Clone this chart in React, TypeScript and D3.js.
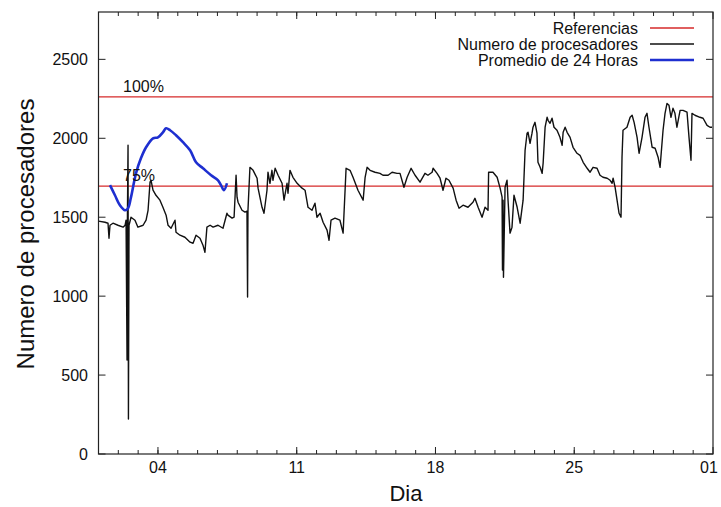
import React from "react";
import * as d3 from "d3";

// Day of month (fractional) and number of processors
const procDays = [
  1.0, 1.33, 1.48, 1.53, 1.58, 1.73, 1.98, 2.24, 2.34, 2.39, 2.44, 2.46, 2.49, 2.51, 2.54, 2.64, 2.84, 2.99,
  3.25, 3.4, 3.5, 3.6, 3.65, 3.75, 3.9, 4.1, 4.25, 4.41, 4.51, 4.66, 4.86, 4.91, 5.11, 5.36, 5.62, 5.77,
  5.92, 6.12, 6.27, 6.37, 6.47, 6.63, 6.78, 7.03, 7.28, 7.48, 7.53, 7.74, 7.84, 7.94, 7.99, 8.04, 8.24,
  8.39, 8.49, 8.52, 8.54, 8.64, 8.8, 9.0, 9.05, 9.25, 9.35, 9.5, 9.55, 9.65, 9.75, 9.8, 9.91, 10.06,
  10.26, 10.36, 10.51, 10.56, 10.66, 10.81, 11.02, 11.27, 11.42, 11.57, 11.77, 11.92, 12.02, 12.18, 12.33,
  12.53, 12.63, 12.73, 12.93, 13.18, 13.34, 13.49, 13.69, 13.84, 14.09, 14.35, 14.45, 14.55, 14.7, 14.95,
  15.2, 15.35, 15.61, 15.81, 16.06, 16.21, 16.41, 16.57, 16.77, 16.97, 17.22, 17.47, 17.62, 17.83, 17.88,
  18.08, 18.23, 18.38, 18.53, 18.68, 18.89, 19.04, 19.19, 19.39, 19.64, 19.89, 19.99, 20.15, 20.35, 20.5,
  20.65, 20.68, 20.9, 21.11, 21.26, 21.36, 21.38, 21.41, 21.43, 21.51, 21.61, 21.66, 21.76, 21.86, 21.96,
  22.12, 22.27, 22.42, 22.52, 22.62, 22.67, 22.77, 22.87, 22.92, 23.02, 23.12, 23.17, 23.28, 23.38, 23.43,
  23.53, 23.63, 23.68, 23.78, 23.88, 23.98, 24.13, 24.28, 24.39, 24.44, 24.54, 24.64, 24.79, 24.94, 25.14,
  25.29, 25.45, 25.65, 25.8, 25.95, 26.15, 26.3, 26.45, 26.66, 26.81, 26.91, 26.96, 27.06, 27.16, 27.26,
  27.36, 27.41, 27.46, 27.66, 27.82, 27.92, 28.02, 28.17, 28.27, 28.42, 28.57, 28.67, 28.77, 28.93, 29.08,
  29.23, 29.33, 29.48, 29.58, 29.68, 29.78, 29.88, 29.98, 30.08, 30.18, 30.34, 30.49, 30.69, 30.79, 30.89,
  30.94, 31.09, 31.34, 31.5, 31.7, 31.85, 31.95,
];
const procValues = [
  1475, 1468, 1462, 1367, 1449, 1462, 1449, 1437, 1449, 1481, 595, 1513, 1956, 222, 1449, 1500, 1481, 1437,
  1449, 1481, 1544, 1722, 1734, 1671, 1639, 1608, 1563, 1513, 1449, 1430, 1481, 1405, 1386, 1373, 1342, 1335,
  1386, 1367, 1323, 1278, 1437, 1449, 1437, 1449, 1430, 1525, 1513, 1494, 1500, 1766, 1627, 1595, 1544,
  1532, 1538, 994, 1544, 1816, 1797, 1747, 1684, 1563, 1525, 1671, 1785, 1715, 1797, 1734, 1810, 1766,
  1715, 1608, 1715, 1652, 1797, 1753, 1715, 1684, 1671, 1563, 1544, 1589, 1500, 1525, 1468,
  1418, 1354, 1481, 1494, 1481, 1399, 1810, 1797, 1753, 1671, 1608, 1753, 1816, 1797, 1785,
  1778, 1766, 1766, 1785, 1778, 1778, 1690, 1753, 1810, 1766, 1722, 1778, 1766, 1785, 1810,
  1778, 1747, 1671, 1747, 1734, 1684, 1608, 1557, 1576, 1563, 1595, 1620, 1563, 1500, 1563,
  1544, 1785, 1785, 1753, 1684, 1627, 1165, 1608, 1120, 1690, 1734, 1608, 1399, 1437, 1639,
  1563, 1462, 1608, 1924, 2032, 2038, 1968, 2032, 2070, 2101, 2032, 1848, 1816, 1778, 1842,
  2070, 2133, 2114, 2095, 2127, 2070, 2051, 2006, 1956, 2038, 2070, 2038, 2006, 1943, 1905,
  1892, 1848, 1810, 1785, 1816, 1810, 1766, 1753, 1747, 1734, 1715, 1747, 1690, 1608, 1525,
  1500, 1880, 2051, 2070, 2133, 2146, 2101, 2006, 1905, 2006, 2133, 2158, 2070, 1943, 1937,
  1880, 1816, 2051, 2158, 2221, 2209, 2133, 2190, 2158, 2070, 2177, 2177, 2165, 2006, 1861,
  2158, 2146, 2133, 2127, 2082, 2070, 2070,
];

const avgDays = [1.58, 1.83, 2.08, 2.34, 2.49, 2.64, 2.89, 3.14, 3.4, 3.75, 4.0, 4.25, 4.41, 4.61, 4.91, 5.26, 5.62, 5.92, 6.27, 6.68, 7.03, 7.18, 7.33, 7.48];
const avgValues = [1703, 1639, 1576, 1544, 1557, 1627, 1778, 1873, 1943, 2000, 2006, 2038, 2063, 2051, 2019, 1975, 1924, 1848, 1810, 1766, 1734, 1703, 1671, 1715];

const refFull = 2262;
const refLabels = ["100%", "75%"];
const refValues = [refFull, refFull * 0.75];

const yTicks = [0, 500, 1000, 1500, 2000, 2500];
const xMajorDays = [4, 11, 18, 25, 32];
const xMajorLabels = ["04", "11", "18", "25", "01"];

const legendLabels = ["Referencias", "Numero de procesadores", "Promedio de 24 Horas"];
const legendColors = ["#d62a2a", "#111111", "#1e2fd0"];

export default function App() {
  const W = 721, H = 507;
  const left = 98.5, right = 713, top = 12, bottom = 454;
  const x = d3.scaleLinear().domain([1, 32]).range([left, right]);
  const y = d3.scaleLinear().domain([0, 2800]).range([bottom, top]);

  const procLine = d3.line<number>().x((_, i) => x(procDays[i])).y((v) => y(v));
  const avgLine = d3.line<number>().x((_, i) => x(avgDays[i])).y((v) => y(v))
    .curve(d3.curveCatmullRom);

  const minorDays = d3.range(2, 32);
  const font = "'Liberation Sans', Arial, Helvetica, sans-serif";

  return (
    <svg width={W} height={H} style={{ position: "absolute", left: 0, top: 0, background: "#fff" }} fontFamily={font}>
      <defs>
        <clipPath id="plot">
          <rect x={left} y={top} width={right - left} height={bottom - top} />
        </clipPath>
      </defs>
      {refValues.map((v, i) => (
        <line key={i} x1={left} x2={right} y1={y(v)} y2={y(v)} stroke={legendColors[0]} strokeWidth={1.2} />
      ))}
      <g clipPath="url(#plot)">
        <path d={procLine(procValues) || ""} fill="none" stroke="#111" strokeWidth={1.4} strokeLinejoin="round" />
        <path d={avgLine(avgValues) || ""} fill="none" stroke={legendColors[2]} strokeWidth={2.6} strokeLinejoin="round" />
      </g>
      {refValues.map((v, i) => (
        <text key={i} x={123} y={y(v) - 5} fontSize={16} fill="#111">{refLabels[i]}</text>
      ))}
      <rect x={left} y={top} width={right - left} height={bottom - top} fill="none" stroke="#222" strokeWidth={1.2} />
      {yTicks.map((t) => (
        <g key={t}>
          <line x1={left} x2={left + 7} y1={y(t)} y2={y(t)} stroke="#222" strokeWidth={1} />
          <line x1={right} x2={right - 7} y1={y(t)} y2={y(t)} stroke="#222" strokeWidth={1} />
          <text x={88} y={y(t)} dy="0.35em" textAnchor="end" fontSize={16} fill="#111">{t}</text>
        </g>
      ))}
      {minorDays.map((d) => (
        <g key={d}>
          <line x1={x(d)} x2={x(d)} y1={bottom} y2={bottom - 4} stroke="#222" strokeWidth={1} />
          <line x1={x(d)} x2={x(d)} y1={top} y2={top + 4} stroke="#222" strokeWidth={1} />
        </g>
      ))}
      {xMajorDays.map((d, i) => (
        <g key={d}>
          <line x1={x(d)} x2={x(d)} y1={bottom} y2={bottom - 7} stroke="#222" strokeWidth={1} />
          <line x1={x(d)} x2={x(d)} y1={top} y2={top + 7} stroke="#222" strokeWidth={1} />
          <text x={i === xMajorDays.length - 1 ? x(d) - 4 : x(d)} y={473} textAnchor="middle" fontSize={16} fill="#111">{xMajorLabels[i]}</text>
        </g>
      ))}
      {legendLabels.map((l, i) => (
        <g key={l}>
          <text x={638} y={28 + i * 16} dy="0.35em" textAnchor="end" fontSize={16} fill="#111">{l}</text>
          <line x1={650} x2={694} y1={28 + i * 16} y2={28 + i * 16} stroke={legendColors[i]} strokeWidth={i === 2 ? 2.6 : 1.4} />
        </g>
      ))}
      <text transform="translate(34,234) rotate(-90)" textAnchor="middle" fontSize={24} fill="#111">Numero de procesadores</text>
      <text x={406} y={501} textAnchor="middle" fontSize={22} fill="#111">Dia</text>
    </svg>
  );
}
